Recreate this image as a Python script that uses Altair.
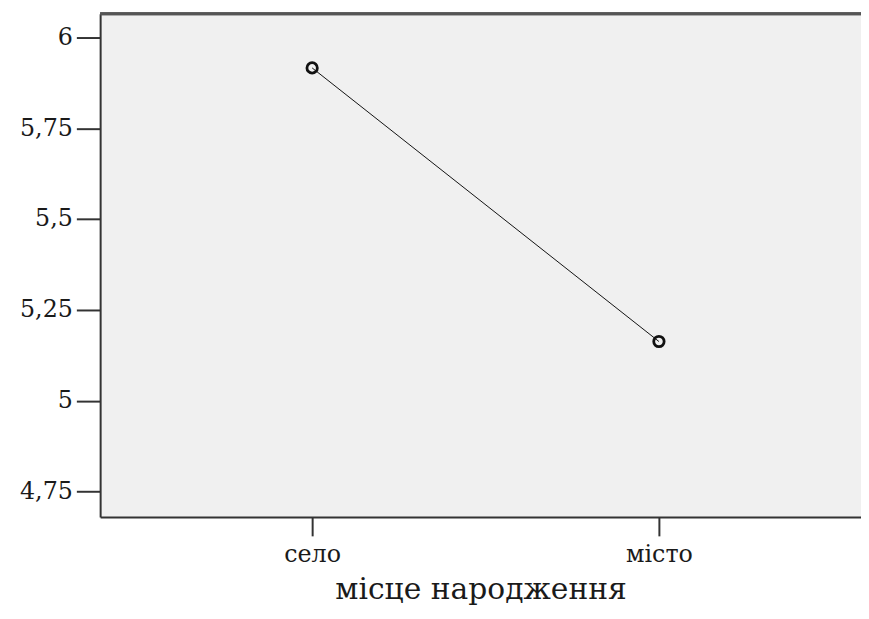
import altair as alt
import pandas as pd

categories = ["село", "місто"]
values = [5.916, 5.163]
y_ticks = [4.75, 5.0, 5.25, 5.5, 5.75, 6.0]

df = pd.DataFrame({"place": categories, "mean": values})

FONT = "DejaVu Serif"
W, H = 768, 508

x = alt.X(
    "place:N",
    sort=categories,
    scale=alt.Scale(type="point", padding=0.597, align=0.512),
    axis=alt.Axis(
        title="місце народження",
        labelAngle=0,
        labelFont=FONT,
        labelFontSize=24,
        labelColor="#1a1a1a",
        labelPadding=7,
        titleFont=FONT,
        titleFontSize=30,
        titleFontWeight="normal",
        titleColor="#1a1a1a",
        titlePadding=8,
        tickSize=19,
        tickWidth=2,
        tickColor="#333333",
        domainColor="#333333",
        domainWidth=2,
        grid=False,
    ),
)
y = alt.Y(
    "mean:Q",
    scale=alt.Scale(domain=[4.68, 6.065], nice=False, zero=False),
    axis=alt.Axis(
        title=None,
        values=y_ticks,
        labelExpr="replace(toString(datum.value), '.', ',')",
        labelFont=FONT,
        labelFontSize=24,
        labelColor="#1a1a1a",
        labelPadding=4,
        tickSize=24,
        tickWidth=2,
        tickColor="#333333",
        domainColor="#333333",
        domainWidth=2,
        grid=False,
    ),
)

base = alt.Chart(df).encode(x=x, y=y)
line = base.mark_line(color="#111111", strokeWidth=1)
points = base.mark_point(shape="circle", filled=False, color="#111111", strokeWidth=2.8, size=110, opacity=1)
top_border = base.mark_rule(color="#555555", strokeWidth=3).encode(
    x=alt.value(0), x2=alt.value(W), y=alt.value(0), y2=alt.value(0)
)

chart = (
    (top_border + line + points)
    .properties(
        width=W,
        height=H,
        autosize=alt.AutoSizeParams(type="none"),
        padding={"left": 93, "top": 3, "right": 0, "bottom": 88},
        background="white",
    )
    .configure_view(fill="#f0f0f0", strokeWidth=0)
)

chart.save("out.html", embed_options={"renderer": "svg", "actions": False})
